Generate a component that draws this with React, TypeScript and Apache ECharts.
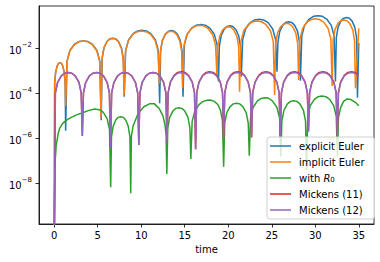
import React, { useEffect, useRef } from "react";
import * as echarts from "echarts";

// [time, log10(value)]
const firstArc: [number, number][] = [
  [0, -11], [0.05, -3.54], [0.16, -3.07], [0.33, -2.79], [0.49, -2.67], [0.66, -2.64], [0.82, -2.67], [0.98, -2.79], [1.15, -3.07], [1.26, -3.54],
];

const explicitEulerLog: [number, number][] = [
  ...firstArc,
  [1.31, -5.66],
  [1.47, -2.57], [1.8, -2.1], [2.33, -1.82], [2.84, -1.7], [3.36, -1.67], [3.87, -1.7], [4.38, -1.82], [4.91, -2.1], [5.24, -2.57],
  [5.4, -5.2],
  [5.51, -2.45], [5.72, -1.98], [6.06, -1.7], [6.39, -1.58], [6.73, -1.55], [7.06, -1.58], [7.39, -1.7], [7.73, -1.98], [7.94, -2.45],
  [8.05, -4.15],
  [8.21, -2.1], [8.54, -1.63], [9.07, -1.35], [9.58, -1.23], [10.09, -1.2], [10.59, -1.23], [11.1, -1.35], [11.63, -1.63], [11.96, -2.1],
  [12.12, -4.44],
  [12.23, -2.11], [12.44, -1.64], [12.79, -1.36], [13.13, -1.24], [13.46, -1.21], [13.8, -1.24], [14.13, -1.36], [14.48, -1.64], [14.69, -2.11],
  [14.8, -4.15],
  [14.96, -1.84], [15.29, -1.37], [15.82, -1.09], [16.33, -0.97], [16.84, -0.94], [17.35, -0.97], [17.86, -1.09], [18.39, -1.37], [18.72, -1.84],
  [18.88, -3.48],
  [18.98, -1.9], [19.19, -1.43], [19.54, -1.15], [19.86, -1.03], [20.19, -1.0], [20.52, -1.03], [20.85, -1.15], [21.19, -1.43], [21.4, -1.9],
  [21.5, -3.26],
  [21.66, -1.61], [21.99, -1.14], [22.53, -0.86], [23.04, -0.74], [23.55, -0.71], [24.06, -0.74], [24.58, -0.86], [25.11, -1.14], [25.44, -1.61],
  [25.6, -3.04],
  [25.71, -1.72], [25.92, -1.25], [26.27, -0.97], [26.61, -0.85], [26.95, -0.82], [27.28, -0.85], [27.62, -0.97], [27.97, -1.25], [28.18, -1.72],
  [28.29, -3.44],
  [28.45, -1.45], [28.77, -0.98], [29.3, -0.7], [29.8, -0.58], [30.31, -0.55], [30.81, -0.58], [31.31, -0.7], [31.84, -0.98], [32.16, -1.45],
  [32.32, -3.48],
  [32.42, -1.53], [32.62, -1.06], [32.95, -0.78], [33.27, -0.66], [33.59, -0.63], [33.9, -0.66], [34.22, -0.78], [34.54, -1.06], [34.75, -1.53],
  [34.85, -4.2],
  [35.0, -1.76],
];

const implicitEulerLog: [number, number][] = [
  ...firstArc,
  [1.31, -4.56],
  [1.47, -2.58], [1.8, -2.11], [2.33, -1.83], [2.84, -1.71], [3.35, -1.68], [3.85, -1.71], [4.36, -1.83], [4.89, -2.11], [5.22, -2.58],
  [5.38, -5.11],
  [5.49, -2.46], [5.7, -1.99], [6.04, -1.71], [6.37, -1.59], [6.71, -1.56], [7.04, -1.59], [7.37, -1.71], [7.71, -1.99], [7.92, -2.46],
  [8.03, -4.08],
  [8.19, -2.13], [8.52, -1.66], [9.05, -1.38], [9.55, -1.26], [10.06, -1.23], [10.57, -1.26], [11.08, -1.38], [11.6, -1.66], [11.93, -2.13],
  [12.09, -3.56],
  [12.2, -2.14], [12.41, -1.67], [12.76, -1.39], [13.09, -1.27], [13.42, -1.24], [13.75, -1.27], [14.09, -1.39], [14.43, -1.67], [14.64, -2.14],
  [14.75, -3.78],
  [14.91, -1.88], [15.22, -1.41], [15.74, -1.13], [16.23, -1.01], [16.73, -0.98], [17.22, -1.01], [17.71, -1.13], [18.23, -1.41], [18.54, -1.88],
  [18.7, -3.26],
  [18.8, -1.94], [19.01, -1.47], [19.35, -1.19], [19.68, -1.07], [20.0, -1.04], [20.33, -1.07], [20.65, -1.19], [20.99, -1.47], [21.2, -1.94],
  [21.3, -3.93],
  [21.46, -1.69], [21.78, -1.22], [22.31, -0.94], [22.81, -0.82], [23.32, -0.79], [23.82, -0.82], [24.32, -0.94], [24.85, -1.22], [25.17, -1.69],
  [25.33, -4.08],
  [25.44, -1.79], [25.66, -1.32], [26.02, -1.04], [26.37, -0.92], [26.71, -0.89], [27.06, -0.92], [27.4, -1.04], [27.76, -1.32], [27.98, -1.79],
  [28.09, -3.41],
  [28.24, -1.59], [28.55, -1.12], [29.05, -0.84], [29.53, -0.72], [30.02, -0.69], [30.5, -0.72], [30.98, -0.84], [31.48, -1.12], [31.79, -1.59],
  [31.94, -3.68],
  [32.05, -1.64], [32.26, -1.17], [32.61, -0.89], [32.95, -0.77], [33.28, -0.74], [33.62, -0.77], [33.95, -0.89], [34.3, -1.17], [34.51, -1.64],
  [34.62, -3.78],
  [35.0, -1.11],
];

const withR0Log: [number, number][] = [
  [0, -11], [0.08, -7.2], [0.23, -6.3], [0.45, -5.8], [0.62, -5.56], [0.9, -5.38], [1.2, -5.26], [1.6, -5.15], [1.96, -5.07], [2.5, -4.97],
  [3.1, -4.89], [3.9, -4.77], [4.65, -4.7], [5.2, -4.73], [5.64, -4.85], [6.08, -5.13], [6.35, -5.6],
  [6.49, -8.18],
  [6.58, -5.94], [6.77, -5.47], [7.07, -5.19], [7.35, -5.07], [7.64, -5.04], [7.93, -5.07], [8.22, -5.19], [8.51, -5.47], [8.7, -5.94],
  [8.79, -8.44],
  [8.87, -5.9], [9.06, -5.45], [9.64, -4.9], [10.3, -4.6], [11.0, -4.46], [11.5, -4.46], [12.1, -4.7], [12.5, -5.0], [12.75, -5.45], [12.86, -5.9],
  [12.94, -7.59],
  [13.05, -5.54], [13.27, -5.07], [13.63, -4.79], [13.98, -4.67], [14.32, -4.64], [14.67, -4.67], [15.01, -4.79], [15.37, -5.07], [15.59, -5.54],
  [15.7, -6.92],
  [15.85, -5.25], [16.15, -4.8], [16.64, -4.5], [17.11, -4.36], [17.58, -4.31], [17.93, -4.3], [18.4, -4.36], [18.8, -4.5], [19.1, -4.75], [19.33, -5.2],
  [19.47, -7.26],
  [19.59, -5.34], [19.82, -4.87], [20.21, -4.59], [20.58, -4.47], [20.94, -4.44], [21.31, -4.47], [21.68, -4.59], [22.07, -4.87], [22.3, -5.34],
  [22.42, -6.77],
  [22.56, -5.1], [22.85, -4.63], [23.33, -4.35], [23.78, -4.23], [24.23, -4.2], [24.6, -4.21], [25.1, -4.35], [25.6, -4.63], [25.9, -5.1],
  [26.04, -6.82],
  [26.16, -5.23], [26.4, -4.76], [26.78, -4.48], [27.15, -4.36], [27.52, -4.33], [27.89, -4.36], [28.26, -4.48], [28.64, -4.76], [28.88, -5.23],
  [29.0, -7.41],
  [29.14, -5.02], [29.43, -4.55], [29.89, -4.27], [30.33, -4.15], [30.78, -4.12], [31.22, -4.15], [31.66, -4.27], [32.12, -4.55], [32.41, -5.02],
  [32.55, -6.82],
  [32.66, -5.1], [32.9, -4.65], [33.25, -4.36], [33.66, -4.25], [34.1, -4.28], [34.6, -4.4], [35.0, -4.55],
];

const mickens11Log: [number, number][] = [
  [0, -11], [0.13, -3.98], [0.39, -3.51], [0.81, -3.23], [1.21, -3.11], [1.62, -3.08], [2.02, -3.11], [2.42, -3.23], [2.84, -3.51], [3.1, -3.98],
  [3.23, -5.9],
  [3.36, -3.98], [3.62, -3.51], [4.04, -3.23], [4.45, -3.11], [4.85, -3.08], [5.26, -3.11], [5.66, -3.23], [6.08, -3.51], [6.34, -3.98],
  [6.47, -6.42],
  [6.6, -3.98], [6.86, -3.51], [7.28, -3.23], [7.69, -3.11], [8.1, -3.08], [8.5, -3.11], [8.91, -3.23], [9.33, -3.51], [9.59, -3.98],
  [9.72, -6.3],
  [9.85, -3.98], [10.11, -3.51], [10.53, -3.23], [10.94, -3.11], [11.34, -3.08], [11.75, -3.11], [12.15, -3.23], [12.57, -3.51], [12.83, -3.98],
  [12.96, -6.15],
  [13.09, -3.97], [13.35, -3.49], [13.78, -3.2], [14.19, -3.07], [14.61, -3.04], [15.02, -3.07], [15.43, -3.2], [15.86, -3.49], [16.12, -3.97],
  [16.25, -6.49],
  [16.38, -3.97], [16.64, -3.49], [17.06, -3.2], [17.46, -3.07], [17.86, -3.04], [18.26, -3.07], [18.67, -3.2], [19.08, -3.49], [19.34, -3.97],
  [19.47, -6.0],
  [19.6, -3.97], [19.86, -3.49], [20.27, -3.2], [20.67, -3.07], [21.08, -3.04], [21.48, -3.07], [21.88, -3.2], [22.29, -3.49], [22.55, -3.97],
  [22.68, -5.96],
  [22.81, -3.97], [23.08, -3.49], [23.51, -3.2], [23.92, -3.07], [24.33, -3.04], [24.74, -3.07], [25.16, -3.2], [25.58, -3.49], [25.85, -3.97],
  [25.98, -5.93],
  [26.11, -3.97], [26.37, -3.49], [26.79, -3.2], [27.2, -3.07], [27.6, -3.04], [28.01, -3.07], [28.41, -3.2], [28.83, -3.49], [29.09, -3.97],
  [29.22, -5.7],
  [29.35, -3.97], [29.62, -3.49], [30.05, -3.2], [30.46, -3.07], [30.88, -3.04], [31.29, -3.07], [31.7, -3.2], [32.13, -3.49], [32.4, -3.97],
  [32.53, -5.93],
  [32.66, -3.97], [32.92, -3.49], [33.34, -3.2], [33.75, -3.07], [34.16, -3.04], [34.56, -3.07], [35.0, -3.21],
];

const mickens12Log: [number, number][] = [
  [0, -11], [0.13, -3.98], [0.39, -3.51], [0.81, -3.23], [1.21, -3.11], [1.62, -3.08], [2.02, -3.11], [2.42, -3.23], [2.84, -3.51], [3.1, -3.98],
  [3.23, -5.9],
  [3.36, -3.98], [3.62, -3.51], [4.04, -3.23], [4.45, -3.11], [4.85, -3.08], [5.26, -3.11], [5.66, -3.23], [6.08, -3.51], [6.34, -3.98],
  [6.47, -6.42],
  [6.6, -3.98], [6.86, -3.51], [7.28, -3.23], [7.69, -3.11], [8.1, -3.08], [8.5, -3.11], [8.91, -3.23], [9.33, -3.51], [9.59, -3.98],
  [9.72, -6.3],
  [9.85, -3.98], [10.11, -3.51], [10.53, -3.23], [10.94, -3.11], [11.34, -3.08], [11.75, -3.11], [12.15, -3.23], [12.57, -3.51], [12.83, -3.98],
  [12.96, -6.15],
  [13.09, -3.98], [13.35, -3.51], [13.78, -3.23], [14.19, -3.11], [14.61, -3.08], [15.02, -3.11], [15.43, -3.23], [15.86, -3.51], [16.12, -3.98],
  [16.25, -6.49],
  [16.38, -3.98], [16.64, -3.51], [17.06, -3.23], [17.46, -3.11], [17.86, -3.08], [18.26, -3.11], [18.67, -3.23], [19.08, -3.51], [19.34, -3.98],
  [19.47, -6.0],
  [19.6, -3.98], [19.86, -3.51], [20.27, -3.23], [20.67, -3.11], [21.08, -3.08], [21.48, -3.11], [21.88, -3.23], [22.29, -3.51], [22.55, -3.98],
  [22.68, -5.96],
  [22.81, -3.98], [23.08, -3.51], [23.51, -3.23], [23.92, -3.11], [24.33, -3.08], [24.74, -3.11], [25.16, -3.23], [25.58, -3.51], [25.85, -3.98],
  [25.98, -5.93],
  [26.11, -3.98], [26.37, -3.51], [26.79, -3.23], [27.2, -3.11], [27.6, -3.08], [28.01, -3.11], [28.41, -3.23], [28.83, -3.51], [29.09, -3.98],
  [29.22, -5.7],
  [29.35, -3.98], [29.62, -3.51], [30.05, -3.23], [30.46, -3.11], [30.88, -3.08], [31.29, -3.11], [31.7, -3.23], [32.13, -3.51], [32.4, -3.98],
  [32.53, -5.93],
  [32.66, -3.98], [32.92, -3.51], [33.34, -3.23], [33.75, -3.11], [34.16, -3.08], [34.56, -3.11], [35.0, -3.24],
];

const seriesNames = ["explicit Euler", "implicit Euler", "with R0", "Mickens (11)", "Mickens (12)"];
const seriesColors = ["#1f77b4", "#ff7f0e", "#2ca02c", "#d62728", "#9467bd"];
const seriesLog = [explicitEulerLog, implicitEulerLog, withR0Log, mickens11Log, mickens12Log];

const xTicks = [0, 5, 10, 15, 20, 25, 30, 35];
const yTicks = [1e-8, 1e-6, 1e-4, 1e-2];
const xRange = [-1.75, 36.75];
const yRangeLog = [-9.81, -0.12];

const FONT = "DejaVu Sans";

export default function App() {
  const ref = useRef<HTMLDivElement>(null);
  useEffect(() => {
    if (!ref.current) return;
    const chart = echarts.init(ref.current, undefined, { renderer: "svg" });
    chart.setOption({
      animation: false,
      textStyle: { fontFamily: FONT },
      grid: {
        left: 39,
        top: 6,
        width: 335,
        height: 218,
        show: true,
        borderColor: "#000",
        borderWidth: 0.8,
        backgroundColor: "transparent",
        containLabel: false,
        outerBoundsMode: "none",
      },
      legend: {
        orient: "vertical",
        left: 267,
        top: 137,
        padding: [4, 10, 4, 3],
        itemWidth: 21,
        itemHeight: 10,
        itemGap: 6,
        icon: "path://M0,0H21V1.5H0Z",
        backgroundColor: "rgba(255,255,255,0.8)",
        borderColor: "#d0d0d0",
        borderWidth: 1,
        borderRadius: 3,
        data: seriesNames,
        formatter: (name: string) => (name === "with R0" ? "with {i|R}{sub|0}" : name),
        textStyle: {
          fontFamily: FONT,
          fontSize: 10,
          color: "#000",
          lineHeight: 10,
          padding: [0, 0, 0, 3],
          rich: {
            i: { fontFamily: FONT, fontSize: 10, fontStyle: "italic", color: "#000", lineHeight: 10 },
            sub: { fontFamily: FONT, fontSize: 7, color: "#000", lineHeight: 6, verticalAlign: "bottom" },
          },
        },
      },
      xAxis: {
        type: "value",
        min: xRange[0],
        max: xRange[1],
        name: "time",
        nameLocation: "middle",
        nameGap: 19,
        nameTextStyle: { fontFamily: FONT, fontSize: 10, color: "#000" },
        axisLine: { show: true, onZero: false, lineStyle: { color: "#000", width: 0.8 } },
        axisTick: { show: true, length: 3.5, lineStyle: { color: "#000", width: 0.8 }, customValues: xTicks },
        axisLabel: { fontFamily: FONT, fontSize: 10, color: "#000", margin: 6, customValues: xTicks },
        splitLine: { show: false },
      },
      yAxis: {
        type: "log",
        logBase: 10,
        min: Math.pow(10, yRangeLog[0]),
        max: Math.pow(10, yRangeLog[1]),
        axisLine: { show: true, onZero: false, lineStyle: { color: "#000", width: 0.8 } },
        axisTick: { show: true, length: 3.5, lineStyle: { color: "#000", width: 0.8 }, customValues: yTicks },
        minorTick: { show: false },
        splitLine: { show: false },
        axisLabel: {
          customValues: yTicks,
          margin: 7,
          formatter: (v: number) => {
            const e = Math.round(Math.log10(v));
            return "{b|10}{s|\u2212" + Math.abs(e) + "}";
          },
          rich: {
            b: { fontFamily: FONT, fontSize: 10, color: "#000", lineHeight: 10, verticalAlign: "bottom" },
            s: { fontFamily: FONT, fontSize: 7, color: "#000", lineHeight: 14, verticalAlign: "top" },
          },
        },
      },
      series: seriesNames.map((name, i) => ({
        name,
        type: "line",
        symbol: "none",
        clip: true,
        color: seriesColors[i],
        lineStyle: { width: 1.5, color: seriesColors[i] },
        data: seriesLog[i].map(([t, e]) => [t, Math.pow(10, e)]),
      })),
    });
    return () => chart.dispose();
  }, []);
  return (
    <div
      ref={ref}
      style={{ position: "fixed", left: 0, top: 0, width: 380, height: 262, background: "#fff" }}
    />
  );
}
